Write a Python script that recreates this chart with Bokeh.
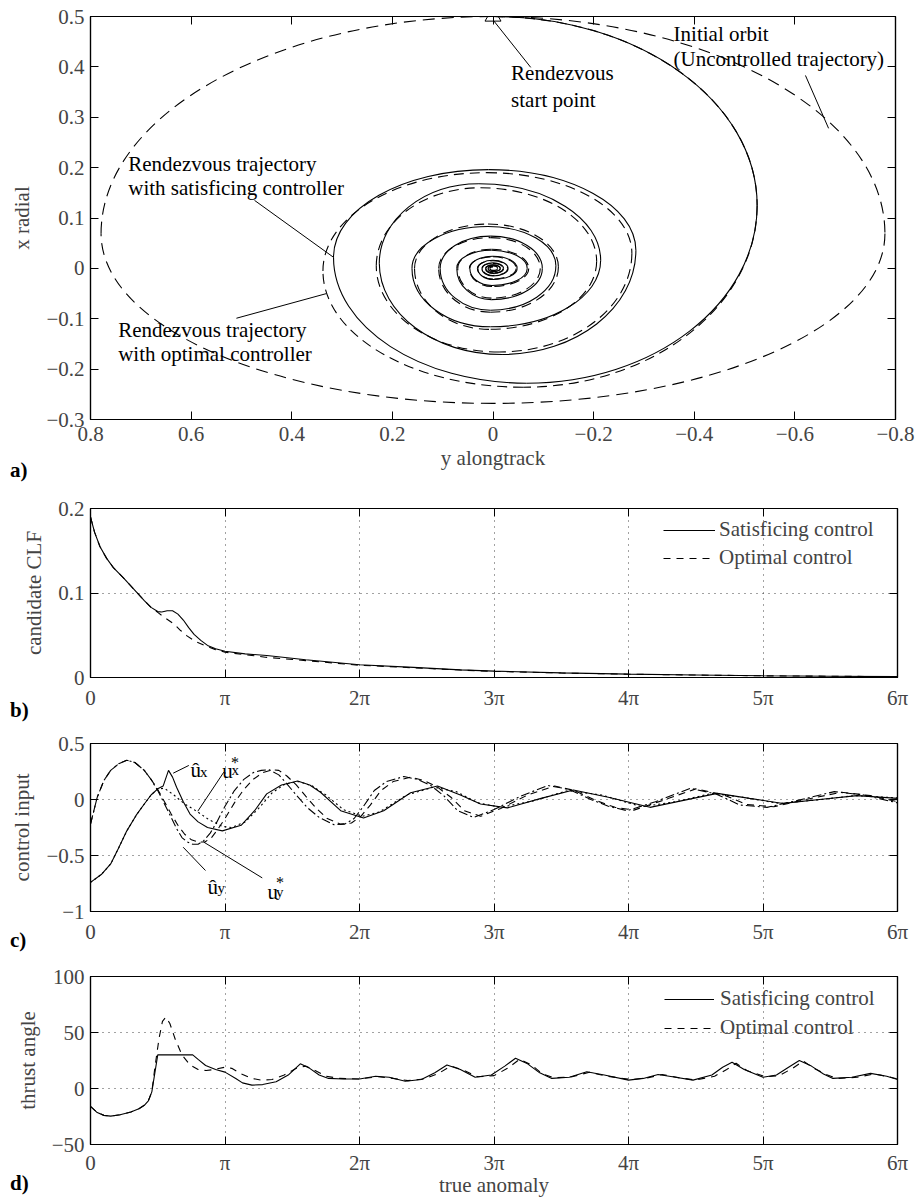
import numpy as np
from bokeh.plotting import figure
from bokeh.models import (Range1d, LinearAxis, FixedTicker, CustomJSTickFormatter,
                          Label, Legend, LegendItem, Div)
from bokeh.layouts import column
from bokeh.embed import file_html
from bokeh.resources import INLINE

FONT = "Liberation Serif"
FS = "21px"

# ---------------- panel a data: extreme points in drawing order ----------------
# order: top, right, bottom, left, top, ...  (along = y alongtrack, radial = x radial)
orbit_along = [0.000, -0.779, 0.000, 0.779, 0.000]
orbit_radial = [0.500, 0.069, -0.268, 0.069, 0.500]

sat_along = [0.000, -0.525, -0.067, 0.317,
             0.009, -0.284, -0.018, 0.226,
             0.028, -0.214, 0.005, 0.161,
             0.010, -0.125, 0.005, 0.105,
             0.005, -0.098, 0.003, 0.072,
             0.003, -0.068, 0.002, 0.046,
             0.000, -0.048, 0.000, 0.030,
             0.000, -0.030, 0.000, 0.022,
             0.000, -0.021, 0.000, 0.015,
             0.000, -0.015, 0.000, 0.010,
             0.000, -0.009, 0.000, 0.006,
             0.000]
sat_radial = [0.500, 0.125, -0.228, 0.022,
              0.196, 0.036, -0.171, 0.010,
              0.168, 0.016, -0.116, 0.000,
              0.083, 0.005, -0.083, 0.000,
              0.064, 0.000, -0.062, 0.000,
              0.036, 0.000, -0.034, 0.000,
              0.024, 0.000, -0.022, 0.000,
              0.016, 0.000, -0.015, 0.000,
              0.011, 0.000, -0.010, 0.000,
              0.007, 0.000, -0.007, 0.000,
              0.005, 0.000, -0.004, 0.000,
              0.003]

opt_along = [0.000, -0.525, -0.060, 0.338,
             0.012, -0.276, -0.012, 0.232,
             0.025, -0.206, 0.008, 0.156,
             0.010, -0.130, 0.005, 0.108,
             0.005, -0.094, 0.003, 0.070,
             0.003, -0.071, 0.002, 0.047,
             0.000, -0.046, 0.000, 0.031,
             0.000, -0.029, 0.000, 0.021,
             0.000, -0.020, 0.000, 0.014,
             0.000, -0.014, 0.000, 0.009,
             0.000]
opt_radial = [0.500, 0.125, -0.236, -0.005,
              0.190, 0.030, -0.166, 0.005,
              0.160, 0.014, -0.121, 0.000,
              0.088, 0.003, -0.087, 0.000,
              0.061, 0.000, -0.059, 0.000,
              0.038, 0.000, -0.036, 0.000,
              0.023, 0.000, -0.021, 0.000,
              0.015, 0.000, -0.014, 0.000,
              0.010, 0.000, -0.009, 0.000,
              0.0065, 0.000, -0.006, 0.000,
              0.004]

a_xticks = [0.8, 0.6, 0.4, 0.2, 0.0, -0.2, -0.4, -0.6, -0.8]
a_yticks = [0.5, 0.4, 0.3, 0.2, 0.1, 0.0, -0.1, -0.2, -0.3]

# ---------------- panel b data (true anomaly in units of pi) ----------------
clf_sat_t = [0, 0.03, 0.07, 0.12, 0.17, 0.25, 0.32, 0.40, 0.45, 0.50, 0.53, 0.57, 0.61,
             0.65, 0.69, 0.73, 0.77, 0.82, 0.87, 0.93, 1.0, 1.15, 1.31, 1.6, 2.0, 2.4,
             2.75, 3.0, 3.5, 4.0, 4.5, 5.0, 5.5, 6.0]
clf_sat = [0.190, 0.172, 0.155, 0.141, 0.130, 0.117, 0.105, 0.091, 0.083, 0.078, 0.0775,
           0.079, 0.079, 0.075, 0.068, 0.059, 0.051, 0.044, 0.038, 0.034, 0.031, 0.028,
           0.026, 0.021, 0.015, 0.012, 0.009, 0.0075, 0.0055, 0.004, 0.003, 0.002,
           0.0015, 0.001]
clf_opt_t = [0, 0.03, 0.07, 0.12, 0.17, 0.25, 0.32, 0.40, 0.45, 0.50, 0.55, 0.62, 0.67,
             0.72, 0.78, 0.86, 0.93, 1.0, 1.15, 1.3, 1.6, 2.0, 2.4, 2.75, 3.0, 3.5, 4.0,
             4.5, 5.0, 5.5, 6.0]
clf_opt = [0.190, 0.172, 0.155, 0.141, 0.130, 0.117, 0.105, 0.091, 0.083, 0.077, 0.071,
           0.0635, 0.0556, 0.049, 0.0426, 0.037, 0.033, 0.030, 0.027, 0.024, 0.020,
           0.0145, 0.0115, 0.0088, 0.0073, 0.0053, 0.0039, 0.0029, 0.002, 0.0015, 0.001]

# ---------------- panel c data ----------------
uxh_t = [0, 0.08, 0.15, 0.21, 0.27, 0.34, 0.40, 0.45, 0.50, 0.54, 0.58, 0.61, 0.64, 0.69,
         0.74, 0.80, 0.87, 0.98, 1.12, 1.22, 1.31, 1.42, 1.54, 1.63, 1.71, 1.86, 2.03,
         2.18, 2.38, 2.58, 2.75, 2.90, 3.1, 3.35, 3.59, 3.85, 4.16, 4.40, 4.66, 4.90,
         5.15, 5.42, 5.70, 6.0]
uxh = [-0.74, -0.67, -0.575, -0.43, -0.28, -0.14, -0.04, 0.04, 0.095, 0.12, 0.26, 0.20,
       0.11, -0.02, -0.13, -0.20, -0.25, -0.28, -0.23, -0.10, 0.05, 0.13, 0.165, 0.13,
       0.065, -0.10, -0.165, -0.10, 0.06, 0.12, 0.04, -0.04, -0.075, 0.01, 0.085, 0.02,
       -0.07, -0.01, 0.055, 0.01, -0.035, 0.0, 0.035, 0.01]
uxs_t = [0, 0.08, 0.15, 0.21, 0.27, 0.34, 0.40, 0.45, 0.50, 0.55, 0.62, 0.70, 0.79, 0.88,
         0.98, 1.05, 1.15, 1.25, 1.35, 1.45, 1.55, 1.65, 1.75, 1.88, 2.02, 2.15, 2.35,
         2.55, 2.72, 2.88, 3.05, 3.3, 3.55, 3.8, 4.1, 4.35, 4.62, 4.85, 5.12, 5.4, 5.68, 6.0]
uxs = [-0.74, -0.67, -0.575, -0.43, -0.28, -0.14, -0.04, 0.04, 0.095, 0.10, 0.04, -0.04,
       -0.105, -0.18, -0.24, -0.25, -0.20, -0.08, 0.06, 0.14, 0.16, 0.12, 0.04, -0.09,
       -0.15, -0.11, 0.04, 0.11, 0.07, -0.03, -0.07, -0.01, 0.08, 0.04, -0.065, -0.02,
       0.055, 0.02, -0.035, -0.005, 0.035, 0.015]
uyh_t = [0, 0.05, 0.10, 0.15, 0.21, 0.27, 0.33, 0.40, 0.45, 0.50, 0.55, 0.60, 0.64, 0.68,
         0.72, 0.76, 0.80, 0.84, 0.89, 0.94, 1.0, 1.07, 1.14, 1.21, 1.27, 1.33, 1.40, 1.46,
         1.53, 1.61, 1.70, 1.81, 1.89, 1.96, 2.03, 2.11, 2.2, 2.33, 2.43, 2.53, 2.63, 2.73,
         2.85, 3.0, 3.2, 3.4, 3.56, 3.72, 3.85, 3.99, 4.2, 4.46, 4.65, 4.83, 5.03, 5.25,
         5.53, 5.75, 6.0]
uyh = [-0.22, 0.02, 0.17, 0.26, 0.32, 0.35, 0.33, 0.26, 0.18, 0.08, -0.04, -0.16, -0.26,
       -0.34, -0.38, -0.40, -0.40, -0.37, -0.30, -0.20, -0.06, 0.08, 0.18, 0.24, 0.26,
       0.265, 0.22, 0.14, 0.04, -0.07, -0.16, -0.225, -0.22, -0.17, -0.06, 0.08, 0.16,
       0.205, 0.18, 0.125, 0.03, -0.10, -0.16, -0.09, 0.03, 0.125, 0.09, 0.0, -0.06,
       -0.10, -0.02, 0.10, 0.05, -0.05, -0.07, -0.01, 0.07, 0.04, -0.03]
uys_t = [0, 0.05, 0.10, 0.15, 0.21, 0.27, 0.33, 0.40, 0.45, 0.50, 0.55, 0.60, 0.65, 0.70,
         0.75, 0.80, 0.85, 0.90, 0.95, 1.0, 1.07, 1.14, 1.21, 1.28, 1.35, 1.40, 1.46, 1.53,
         1.60, 1.68, 1.76, 1.86, 1.94, 2.01, 2.08, 2.16, 2.25, 2.38, 2.48, 2.58, 2.68,
         2.78, 2.9, 3.05, 3.25, 3.45, 3.6, 3.76, 3.9, 4.04, 4.25, 4.5, 4.7, 4.88, 5.08,
         5.3, 5.58, 5.8, 6.0]
uys = [-0.22, 0.02, 0.17, 0.26, 0.32, 0.35, 0.33, 0.26, 0.18, 0.09, -0.02, -0.13, -0.23,
       -0.31, -0.36, -0.38, -0.38, -0.34, -0.26, -0.17, -0.03, 0.09, 0.18, 0.24, 0.265,
       0.26, 0.21, 0.13, 0.03, -0.08, -0.17, -0.22, -0.21, -0.15, -0.05, 0.08, 0.16, 0.20,
       0.17, 0.11, 0.02, -0.10, -0.15, -0.08, 0.04, 0.12, 0.08, -0.01, -0.07, -0.095,
       -0.01, 0.095, 0.045, -0.045, -0.065, -0.005, 0.065, 0.035, -0.02]

# ---------------- panel d data ----------------
ang_sat_t = [0, 0.05, 0.10, 0.15, 0.22, 0.30, 0.36, 0.40, 0.43, 0.456, 0.48, 0.50, 0.76,
             0.80, 0.856, 0.93, 1.0, 1.08, 1.13, 1.2, 1.28, 1.38, 1.47, 1.56, 1.63, 1.70,
             1.77, 1.88, 2.0, 2.12, 2.22, 2.34, 2.46, 2.56, 2.65, 2.75, 2.86, 2.98, 3.08,
             3.16, 3.25, 3.34, 3.43, 3.56, 3.69, 3.82, 4.0, 4.11, 4.22, 4.35, 4.48, 4.62,
             4.70, 4.77, 4.86, 5.0, 5.1, 5.19, 5.27, 5.36, 5.45, 5.52, 5.66, 5.8, 5.92, 6.0]
ang_sat = [-16, -21.5, -24, -24.7, -23.5, -21, -18, -15, -11, -3, 15, 30, 30, 26, 20.5,
           17, 14.6, 9, 5, 3, 3.5, 6, 12, 22, 18, 12, 9, 8.5, 8.5, 11, 10, 6.5, 8, 14, 21,
           17, 10, 12, 20, 27, 22, 14, 9, 10, 15, 12, 7.5, 9, 12.5, 10, 7.5, 12, 19, 23.5,
           17, 10, 12, 19, 25, 20, 13, 9, 10, 13.5, 11, 8]
ang_opt_t = [0, 0.05, 0.10, 0.15, 0.22, 0.30, 0.36, 0.40, 0.43, 0.456, 0.48, 0.51, 0.535,
             0.56, 0.59, 0.63, 0.68, 0.74, 0.80, 0.86, 0.92, 1.0, 1.05, 1.12, 1.2, 1.27,
             1.35, 1.44, 1.53, 1.6, 1.67, 1.75, 1.85, 2.0, 2.14, 2.25, 2.36, 2.48, 2.58,
             2.68, 2.76, 2.88, 3.0, 3.1, 3.19, 3.28, 3.36, 3.45, 3.58, 3.71, 3.84, 4.02,
             4.14, 4.25, 4.38, 4.5, 4.64, 4.73, 4.80, 4.88, 5.02, 5.12, 5.22, 5.3, 5.38,
             5.48, 5.55, 5.7, 5.83, 5.95, 6.0]
ang_opt = [-16, -21.5, -24, -24.7, -23.5, -21, -18, -15, -11, -3, 20, 45, 60, 63.7, 58,
           44, 30, 21, 17, 16, 17, 19, 18, 13, 9, 7.5, 8, 12, 18, 20, 16, 11, 9, 8.5, 10.5,
           9, 7, 8.5, 13, 20, 17, 10.5, 11.5, 18, 26, 21, 13, 9.5, 10.5, 14.5, 11, 8, 9.5,
           12.5, 9.5, 7.5, 11, 17, 22.5, 16, 10.5, 11.5, 18, 24.5, 18, 12, 9, 10, 13, 10,
           8.5]

pi_ticks = [0, 1, 2, 3, 4, 5, 6]
b_yticks = [0.0, 0.1, 0.2]
c_yticks = [-1.0, -0.5, 0.0, 0.5]
d_yticks = [-50, 0, 50, 100]

panel_names = ["a)", "b)", "c)", "d)"]
panel_name_tops = [459, 699, 929, 1172]

# ---------------- helpers ----------------
NUM_FMT = CustomJSTickFormatter(code="""
if (Math.abs(tick) < 1e-9) { return "0"; }
var s = (Math.abs(tick - Math.round(tick)) < 1e-9) ? Math.round(tick).toString() : tick.toFixed(1);
return s.replace("-", "\u2212");
""")
PI_FMT = CustomJSTickFormatter(code="""
var k = Math.round(tick);
if (k == 0) { return "0"; }
if (k == 1) { return "\u03c0"; }
return k + "\u03c0";
""")

K = 0.5523


def arcs(h, v):
    h = np.asarray(h, float)
    v = np.asarray(v, float)
    x0, y0, x1, y1 = h[:-1], v[:-1], h[1:], v[1:]
    cx0 = np.empty_like(x0); cy0 = np.empty_like(x0)
    cx1 = np.empty_like(x0); cy1 = np.empty_like(x0)
    for i in range(len(x0)):
        if i % 2 == 0:
            cx0[i] = x0[i] + K * (x1[i] - x0[i]); cy0[i] = y0[i]
            cx1[i] = x1[i]; cy1[i] = y1[i] + K * (y0[i] - y1[i])
        else:
            cx0[i] = x0[i]; cy0[i] = y0[i] + K * (y1[i] - y0[i])
            cx1[i] = x1[i] + K * (x0[i] - x1[i]); cy1[i] = y1[i]
    return dict(x0=x0, y0=y0, x1=x1, y1=y1, cx0=cx0, cy0=cy0, cx1=cx1, cy1=cy1)


def make_fig(top, fh, bottom, left, fw, xr, yr, xt, yt, xfmt, yfmt, grid,
             xlabel=None, ylabel=None, xstand=7, xlstand=1):
    right = 918 - left - fw
    p = figure(frame_width=fw, frame_height=fh, x_range=xr, y_range=yr,
               output_backend="svg", toolbar_location=None,
               min_border_left=left, min_border_right=right,
               min_border_top=top, min_border_bottom=bottom)
    p.outline_line_color = "black"
    p.outline_line_width = 1.2
    p.background_fill_color = "white"
    p.border_fill_color = "white"
    xa = p.xaxis[0]
    ya = p.yaxis[0]
    xa.ticker = FixedTicker(ticks=xt)
    ya.ticker = FixedTicker(ticks=yt)
    xa.formatter = xfmt
    ya.formatter = yfmt
    for ax in (xa, ya):
        ax.major_label_text_font = FONT
        ax.major_label_text_font_size = FS
        ax.axis_label_text_font = FONT
        ax.axis_label_text_font_size = FS
        ax.axis_label_text_font_style = "normal"
        ax.major_tick_in = 8
        ax.major_tick_out = 0
        ax.minor_tick_line_color = None
        ax.axis_line_color = "black"
        ax.axis_line_width = 1.2
        ax.major_tick_line_color = "black"
    xa.major_label_standoff = xstand
    ya.major_label_standoff = 6
    xa.axis_label_standoff = xlstand
    ya.axis_label_standoff = 9
    if xlabel:
        xa.axis_label = xlabel
    if ylabel:
        ya.axis_label = ylabel
    for loc, tk in (("above", xt), ("right", yt)):
        ax = LinearAxis(ticker=FixedTicker(ticks=tk), major_label_text_font_size="1px",
                        major_label_text_color=None, major_tick_in=8, major_tick_out=0,
                        minor_tick_line_color=None, major_label_standoff=0,
                        axis_line_color="black", axis_line_width=1.2,
                        major_tick_line_color="black")
        p.add_layout(ax, loc)
    if grid:
        for g in (p.xgrid[0], p.ygrid[0]):
            g.grid_line_color = "#444444"
            g.grid_line_dash = "1 5"
            g.grid_line_width = 1
        p.xgrid[0].ticker = FixedTicker(ticks=xt)
        p.ygrid[0].ticker = FixedTicker(ticks=yt)
    else:
        p.xgrid.grid_line_color = None
        p.ygrid.grid_line_color = None
    return p


def txt(p, x, y, s, size=FS, baseline="middle", align="left"):
    p.add_layout(Label(x=x, y=y, text=s, text_font=FONT, text_font_size=size,
                       text_baseline=baseline, text_align=align, text_color="black"))


LW = 1.1

# ---------------- panel a ----------------
pa = make_fig(16, 403, 69, 89, 805, Range1d(0.8, -0.8), Range1d(-0.3, 0.5),
              a_xticks, a_yticks, NUM_FMT, NUM_FMT, False,
              xlabel="y alongtrack", ylabel="x radial", xstand=7, xlstand=2)
pa.bezier(**arcs(orbit_along, orbit_radial), line_color="black", line_width=LW,
          line_dash="12 7")
pa.bezier(**arcs(opt_along, opt_radial), line_color="black", line_width=LW,
          line_dash="10 6")
pa.bezier(**arcs(sat_along, sat_radial), line_color="black", line_width=LW)
pa.scatter([sat_along[0]], [sat_radial[0]], marker="triangle", size=16,
           fill_color=None, line_color="black", line_width=1)
# annotation leaders
pa.line([0.474, 0.317], [0.135, 0.022], line_color="black", line_width=1)
pa.line([0.510, 0.331], [-0.099, -0.050], line_color="black", line_width=1)
pa.line([-0.001, -0.075], [0.492, 0.399], line_color="black", line_width=1)
pa.line([-0.621, -0.667], [0.383, 0.278], line_color="black", line_width=1)
txt(pa, 0.725, 0.208, "Rendezvous trajectory")
txt(pa, 0.725, 0.159, "with satisficing controller")
txt(pa, 0.745, -0.123, "Rendezvous trajectory")
txt(pa, 0.745, -0.170, "with optimal controller")
txt(pa, -0.036, 0.387, "Rendezvous")
txt(pa, -0.036, 0.335, "start point")
txt(pa, -0.359, 0.466, "Initial orbit")
txt(pa, -0.359, 0.415, "(Uncontrolled trajectory)")

# ---------------- panel b ----------------
pb = make_fig(20, 169, 45, 90, 807, Range1d(0, 6), Range1d(0, 0.2),
              pi_ticks, b_yticks, PI_FMT, NUM_FMT, True, ylabel="candidate CLF",
              xstand=8)
rb2 = pb.line(clf_opt_t, clf_opt, line_color="black", line_width=LW, line_dash="7 6")
rb1 = pb.line(clf_sat_t, clf_sat, line_color="black", line_width=LW)
legb = Legend(items=[LegendItem(label="Satisficing control", renderers=[rb1]),
                     LegendItem(label="Optimal control", renderers=[rb2])],
              location=(573, 107), padding=0, spacing=3, glyph_width=52, glyph_height=22,
              label_standoff=4, label_text_font=FONT, label_text_font_size=FS,
              border_line_alpha=0, background_fill_alpha=0, margin=0)
pb.add_layout(legb)

# ---------------- panel c ----------------
pc = make_fig(21, 168, 44, 90, 807, Range1d(0, 6), Range1d(-1, 0.5),
              pi_ticks, c_yticks, PI_FMT, NUM_FMT, True, ylabel="control input",
              xstand=8)
pc.line(uys_t, uys, line_color="black", line_width=LW, line_dash="7 5")
pc.line(uyh_t, uyh, line_color="black", line_width=LW, line_dash="9 3 2 3")
pc.line(uxs_t, uxs, line_color="black", line_width=LW, line_dash="2 3")
pc.line(uxh_t, uxh, line_color="black", line_width=LW)
pc.line([0.731, 0.615], [0.304, 0.235], line_color="black", line_width=1)
pc.line([0.991, 0.798], [0.244, -0.104], line_color="black", line_width=1)
pc.line([0.855, 0.689], [-0.634, -0.426], line_color="black", line_width=1)
pc.line([1.277, 0.843], [-0.700, -0.381], line_color="black", line_width=1)
txt(pc, 0.743, 0.259, "\u00fb", baseline="alphabetic")
txt(pc, 0.814, 0.250, "x", size="15px", baseline="alphabetic")
txt(pc, 0.979, 0.253, "u", baseline="alphabetic")
txt(pc, 1.045, 0.330, "*", size="16px", baseline="alphabetic")
txt(pc, 1.048, 0.259, "x", size="15px", baseline="alphabetic")
txt(pc, 0.870, -0.783, "\u00fb", baseline="alphabetic")
txt(pc, 0.944, -0.786, "y", size="15px", baseline="alphabetic")
txt(pc, 1.316, -0.828, "u", baseline="alphabetic")
txt(pc, 1.379, -0.745, "*", size="16px", baseline="alphabetic")
txt(pc, 1.379, -0.828, "y", size="15px", baseline="alphabetic")

# ---------------- panel d ----------------
pd_ = make_fig(21, 168, 56, 90, 807, Range1d(0, 6), Range1d(-50, 100),
               pi_ticks, d_yticks, PI_FMT, NUM_FMT, True,
               xlabel="true anomaly", ylabel="thrust angle", xstand=6, xlstand=-5)
rd2 = pd_.line(ang_opt_t, ang_opt, line_color="black", line_width=LW, line_dash="7 6")
rd1 = pd_.line(ang_sat_t, ang_sat, line_color="black", line_width=LW)
legd = Legend(items=[LegendItem(label="Satisficing control", renderers=[rd1]),
                     LegendItem(label="Optimal control", renderers=[rd2])],
              location=(574, 104), padding=0, spacing=4, glyph_width=50, glyph_height=22,
              label_standoff=6, label_text_font=FONT, label_text_font_size=FS,
              border_line_alpha=0, background_fill_alpha=0, margin=0)
pd_.add_layout(legd)

# ---------------- panel letters (bold, left of each panel) ----------------
letters = []
for name, top in zip(panel_names, panel_name_tops):
    letters.append(Div(
        text=name,
        styles={"position": "absolute", "left": "10px", "top": f"{top}px",
                "font-family": FONT, "font-size": "21px", "font-weight": "bold",
                "line-height": "22px", "margin": "0", "padding": "0",
                "color": "black", "z-index": "10"}))

layout = column(pa, pb, pc, pd_, *letters, spacing=0)
open("out.html", "w").write(file_html(layout, INLINE))
